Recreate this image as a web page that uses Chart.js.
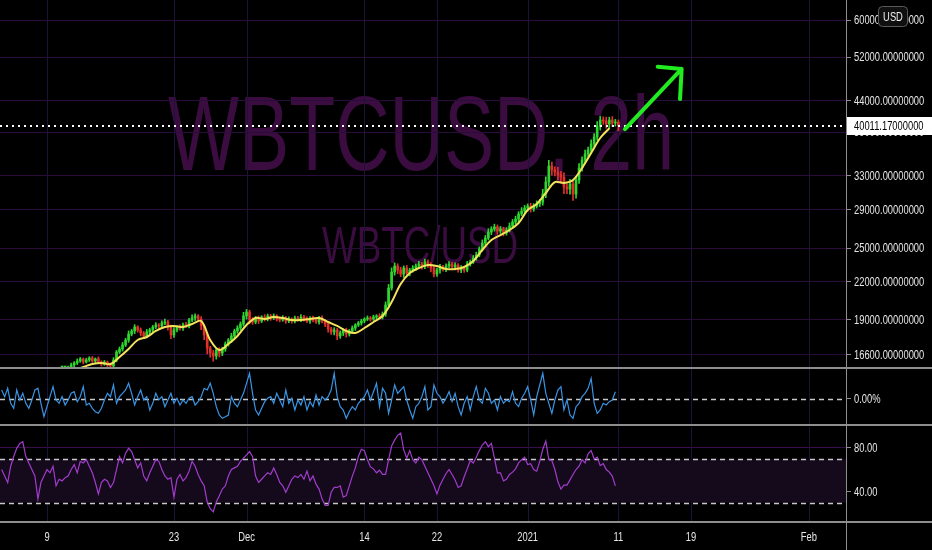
<!DOCTYPE html>
<html>
<head>
<meta charset="utf-8">
<title>WBTCUSD, 2h</title>
<script src="https://cdn.jsdelivr.net/npm/chart.js@4.4.1/dist/chart.umd.min.js"></script>
<style>
  html, body { margin: 0; padding: 0; background: #000; }
  #wrap { position: relative; width: 932px; height: 550px; background: #000; overflow: hidden; }
  #wrap canvas { position: absolute; left: 0; }
</style>
</head>
<body>
<div id="wrap">
  <canvas id="priceChart" width="932" height="369" style="top:0"></canvas>
  <canvas id="oscChart" width="932" height="57" style="top:369px"></canvas>
  <canvas id="rsiChart" width="932" height="124" style="top:426px"></canvas>
</div>
<script>
// time axis: days counted from Nov 1 2020 (Nov 1 = 0)
const xMin = 2.82;
const xMax = 96.1;
const xTickDays = [8, 22, 30, 43, 51, 61, 71, 79, 92];
const xTickLabels = ['9', '23', 'Dec', '14', '22', '2021', '11', '19', 'Feb'];

// price pane (log scale)
const priceMin = 15842;
const priceMax = 64787;
const priceTicks = [16600, 19000, 22000, 25000, 29000, 33000, 39000, 44000, 52000, 60000];
const lastPrice = 40011.17;

// 8h closes, first one at Nov 10 16:00
const priceStartDay = 29 / 3;
const stepDay = 1 / 3;
const priceCloses = [
  15660, 15720, 15840, 15965, 16090, 16210, 16335, 16150, 16275, 16400,
  16210, 16340, 16150, 16025, 16150, 15965, 15905, 16275, 16780, 16975,
  17240, 17570, 17980, 18190, 18470, 18260, 18050, 17845, 18120, 18260,
  18470, 18615, 18545, 18755, 18830, 18470, 17915, 18260, 18470, 18400,
  18615, 18545, 18975, 19120, 19270, 19045, 18545, 17915, 17040, 16715,
  16525, 16910, 16715, 16975, 17305, 17570, 17845, 18190, 18400, 18685,
  19270, 19565, 18975, 18830, 19120, 18900, 19195, 19045, 19270, 19120,
  19270, 19045, 18975, 19120, 18900, 19045, 18900, 19120, 18975, 19195,
  19045, 18900, 19120, 18975, 18830, 19120, 18900, 18685, 18330, 18120,
  18260, 17845, 18050, 18260, 17980, 18190, 18400, 18615, 18755, 18900,
  19045, 19120, 19045, 19195, 19270, 19195, 19415, 20100, 21450, 22810,
  23340, 22985, 22635, 23165, 22725, 22985, 23165, 23340, 23520, 23340,
  23705, 23520, 23165, 22635, 22985, 23255, 23075, 23340, 23520, 23255,
  23430, 22985, 23165, 22985, 23520, 23705, 24085, 24350, 24915, 25495,
  25985, 26595, 26900, 27110, 26695, 26900, 26490, 26800, 27210, 27635,
  27955, 28500, 28830, 29160, 29385, 29050, 29385, 29615, 29840, 30770,
  32220, 34260, 33740, 33480, 33100, 32845, 31610, 31370, 31980, 30770,
  32470, 34000, 35060, 35880, 36430, 37280, 38295, 39915, 40875, 40720,
  40255, 40875, 40410, 40565, 40011.17
];
// wick lengths above / below the body, in tenths of a percent
const wickUp = [
  5, 6, 4, 7, 5, 8, 6, 4, 7, 5,
  6, 4, 8, 5, 6, 4, 7, 9, 6, 8,
  10, 7, 12, 6, 9, 5, 8, 6, 10, 7,
  6, 9, 5, 8, 11, 6, 7, 9, 5, 8,
  7, 10, 6, 12, 8, 5, 9, 6, 8, 7,
  10, 6, 9, 7, 8, 6, 10, 7, 9, 8,
  14, 10, 7, 9, 6, 8, 5, 9, 7, 6,
  8, 5, 7, 9, 6, 8, 5, 7, 6, 9,
  6, 8, 5, 7, 9, 6, 8, 5, 7, 6,
  9, 6, 8, 5, 7, 6, 8, 5, 6, 7,
  5, 8, 6, 7, 5, 9, 8, 12, 14, 16,
  12, 9, 11, 8, 10, 7, 9, 8, 10, 7,
  11, 8, 6, 9, 7, 10, 6, 8, 9, 7,
  8, 6, 9, 7, 10, 8, 9, 11, 8, 12,
  10, 13, 9, 11, 8, 10, 7, 9, 12, 10,
  11, 9, 13, 10, 8, 11, 9, 12, 10, 18,
  20, 22, 15, 12, 18, 14, 16, 12, 18, 15,
  14, 17, 12, 15, 11, 16, 13, 18, 14, 12,
  15, 11, 13, 10, 8
];
const wickDown = [
  6, 4, 7, 5, 8, 6, 5, 7, 4, 6,
  5, 7, 6, 8, 5, 9, 6, 5, 7, 6,
  8, 6, 9, 7, 10, 8, 11, 9, 7, 8,
  7, 6, 9, 8, 6, 12, 14, 9, 7, 8,
  9, 7, 8, 6, 9, 11, 14, 18, 22, 16,
  20, 12, 15, 10, 9, 8, 10, 7, 9, 8,
  8, 12, 15, 9, 7, 10, 6, 8, 7, 9,
  6, 8, 7, 5, 9, 6, 8, 7, 5, 6,
  8, 6, 9, 7, 6, 8, 7, 10, 12, 9,
  11, 14, 9, 10, 12, 8, 7, 9, 6, 8,
  7, 6, 8, 5, 7, 6, 8, 9, 10, 8,
  12, 14, 10, 13, 9, 11, 8, 10, 9, 12,
  10, 13, 15, 11, 9, 12, 8, 10, 7, 9,
  11, 8, 10, 9, 7, 8, 6, 9, 7, 8,
  9, 7, 10, 8, 12, 9, 11, 8, 7, 9,
  8, 10, 7, 9, 11, 12, 9, 8, 10, 12,
  14, 16, 20, 15, 18, 22, 25, 18, 20, 24,
  16, 13, 12, 14, 11, 13, 10, 12, 15, 13,
  16, 18, 14, 12, 20
];

// daily moving average, from Nov 11
const maStartDay = 10;
const maValues = [
  15540, 15660, 15840, 16025, 16090, 16025, 16460, 16975, 17570, 17775,
  18190, 18470, 18545, 18470, 18685, 18900, 17570, 16910, 17305, 17845,
  18615, 19120, 19045, 19195, 19120, 18975, 18975, 19045, 19120, 18830,
  18545, 18190, 18050, 18400, 18830, 19270, 20330, 21785, 22725, 23165,
  23430, 23340, 23075, 23075, 23255, 23795, 24820, 25785, 26290, 26800,
  27530, 28940, 29615, 30890, 32220, 32100, 32470, 34000, 36010, 38150,
  39610
];

// drawn arrow: tail, head, two wing ends
const arrowDays = [71.73, 77.98, 75.34, 77.80];
const arrowPrices = [39460, 49716, 50154, 44305];

// oscillator (%), 8h steps from Nov 4
const oscStartDay = 3;
const oscMin = -2.5;
const oscMax = 3.0;
const oscTicks = [0];
const oscValues = [
  0.90, 0.23, 1.07, -0.43, -0.93, 0.90, -0.10, 0.57, -0.43, -0.93,
  -0.10, 0.90, 1.07, -0.43, -1.77, -0.77, 0.23, 1.23, -0.10, -0.43,
  0.23, -0.60, -0.10, 0.57, 0.73, -0.27, 0.23, 1.23, -0.60, -0.43,
  -0.93, -1.27, -1.43, -0.93, -0.10, 0.57, 0.23, 1.40, -0.43, 0.23,
  0.57, 0.90, 1.57, 0.57, -0.60, 0.23, 0.90, -0.10, 0.23, -1.10,
  -0.43, 0.57, -0.10, 0.23, -0.77, -0.10, 0.57, -0.43, 0.07, -0.60,
  -0.10, -0.43, 0.07, 0.23, -0.60, -0.27, 0.23, 1.07, 0.90, 1.57,
  0.57, -0.77, -1.60, -1.93, -1.77, -1.60, 0.23, -0.43, -0.77, -0.10,
  0.57, 1.57, 2.57, 0.57, -1.10, -1.60, -0.93, -0.27, 0.07, 0.23,
  -0.43, 0.57, -0.10, -0.77, 0.90, -0.43, 0.07, -1.10, -0.10, -0.60,
  0.23, -1.10, -0.27, -0.77, 0.40, -0.60, 0.23,
  -0.10, 0.23, 0.90, 2.57, 0.23, -0.77, -1.10, -1.93, -1.27, -0.77,
  -1.10, -0.43, -0.10, 0.23, 0.90, -0.10, 0.73, 1.57, -0.77, 1.07,
  0.57, -1.43, -0.10, 1.40, 0.57, 0.90, 1.23, -0.10, -1.10, -1.93,
  -0.77, -0.43, 0.23, 1.23, -1.10, -0.77, 1.40, 0.57, 0.23, -0.43,
  0.07, 0.73, -0.27, 0.57, -0.77, -1.60, -0.43, 0.23, -1.10, 0.23,
  1.23, -0.10, -0.43, 1.07, 0.57, -0.43, -0.10, -1.10, 0.23, -0.43,
  -0.10, -0.27, 0.73, -0.43, -0.77, 0.07, 0.57, 1.23, -0.10, -1.60,
  0.23, 1.40, 2.57, 0.57, -0.43, -1.43, -0.10, 0.90, 1.23, -1.10,
  -0.10, -1.60, -1.93, -0.77, -0.43, 0.23, 0.57, 1.07, 2.07, -0.43,
  -1.43, -1.10, -0.43, -0.60, -0.27, -0.10, 0.73
];

// RSI, same 8h steps
const rsiMin = 13.2;
const rsiMax = 99.2;
const rsiTicks = [80, 40];
const rsiBand = [70, 30];
const rsiValues = [
  60.3, 54.4, 48.4, 63.3, 72.2, 79.7, 84.2, 85.7, 72.2, 66.3,
  60.3, 54.4, 33.5, 48.4, 54.4, 60.3, 57.3, 63.3, 45.4, 51.4,
  49.9, 52.9, 54.4, 60.3, 64.8, 57.3, 67.8, 66.3, 69.3, 63.3,
  57.3, 48.4, 37.9, 48.4, 51.4, 49.9, 43.9, 48.4, 60.3, 72.2,
  66.3, 75.2, 79.7, 76.7, 69.3, 61.8, 66.3, 54.4, 49.9, 57.3,
  63.3, 69.3, 67.8, 60.3, 54.4, 51.4, 52.9, 35.0, 51.4, 55.8,
  49.9, 52.9, 58.8, 67.8, 63.3, 55.8, 49.9, 45.4, 30.5, 24.5,
  21.6, 30.5, 36.4, 42.4, 45.4, 54.4, 60.3, 61.8, 63.3, 67.8,
  70.8, 73.7, 76.7, 72.2, 54.4, 48.4, 51.4, 54.4, 57.3, 55.8,
  61.8, 55.8, 48.4, 45.4, 39.5, 45.4, 51.4, 54.4, 52.9, 55.8,
  51.4, 58.8, 49.9, 54.4, 46.9, 42.4, 33.5,
  27.5, 27.5, 39.5, 43.9, 43.9, 45.4, 35.0, 36.4, 45.4, 54.3,
  61.8, 72.2, 78.8, 77.6, 69.3, 62.7, 60.9, 57.3, 59.7, 55.8,
  55.8, 69.3, 81.8, 87.2, 91.6, 93.7, 78.2, 70.8, 77.6, 69.3,
  66.3, 71.6, 69.3, 63.3, 57.3, 51.4, 45.4, 37.9, 46.0, 51.4,
  56.7, 60.3, 55.8, 50.8, 43.9, 45.4, 53.7, 60.9, 68.6, 66.3,
  71.6, 77.6, 82.7, 85.7, 81.2, 84.2, 70.8, 57.3, 57.3, 49.9,
  51.4, 55.8, 57.9, 60.9, 66.3, 69.3, 71.6, 64.8, 65.7, 60.3,
  58.8, 67.8, 78.8, 86.3, 69.3, 68.6, 60.3, 49.0, 42.4, 46.0,
  46.0, 50.8, 55.8, 60.3, 63.3, 69.3, 66.3, 74.6, 77.6, 69.9,
  71.6, 63.9, 65.7, 60.3, 57.9, 54.3, 45.4
];

const AXIS_W = 86;
const TEXT = '#e6e6e6';
const LINE_GRAY = '#8e8e8e';
const FONT = "13px 'Liberation Sans', sans-serif";
const SQUEEZE = 0.72; // the screenshot is squashed horizontally
const UP = '#2fd62f';
const DOWN = '#e2302a';

function fixAxisWidth(scale) {
  scale.width = AXIS_W;
  scale.paddingTop = 0;
  scale.paddingBottom = 0;
}

function squeezedText(ctx, text, x, y, align) {
  ctx.save();
  ctx.translate(x, y);
  ctx.scale(SQUEEZE, 1);
  ctx.textAlign = align;
  ctx.textBaseline = 'middle';
  ctx.fillText(text, 0, 0);
  ctx.restore();
}

// vertical date grid, pane separators, price axis line, tick labels
const paneFrame = {
  id: 'paneFrame',
  beforeDatasetsDraw(chart) {
    const { ctx, chartArea: a, scales: { x } } = chart;
    ctx.save();
    ctx.strokeStyle = '#1a1438';
    ctx.lineWidth = 1;
    xTickDays.forEach((d) => {
      const px = Math.round(x.getPixelForValue(d)) + 0.5;
      ctx.beginPath();
      ctx.moveTo(px, a.top);
      ctx.lineTo(px, a.bottom);
      ctx.stroke();
    });
    ctx.restore();
  },
  afterDraw(chart) {
    const { ctx, chartArea: a, scales: { x, y } } = chart;
    ctx.save();
    ctx.strokeStyle = LINE_GRAY;
    ctx.lineWidth = 2;
    ctx.beginPath();
    ctx.moveTo(0, a.bottom + 1);
    ctx.lineTo(chart.width, a.bottom + 1);
    ctx.stroke();
    ctx.lineWidth = 1;
    ctx.beginPath();
    ctx.moveTo(a.right + 0.5, 0);
    ctx.lineTo(a.right + 0.5, chart.height);
    ctx.stroke();

    ctx.fillStyle = TEXT;
    ctx.font = FONT;
    y.ticks.forEach((t) => {
      squeezedText(ctx, t.label, a.right + 8, y.getPixelForValue(t.value) + 0.5, 'left');
    });
    if (x.options.display) {
      x.ticks.forEach((t) => {
        squeezedText(ctx, t.label, x.getPixelForValue(t.value), a.bottom + 16, 'center');
      });
    }
    ctx.restore();
  },
};

function drawFitted(ctx, text, left, right, baseline, size) {
  ctx.font = `${size}px 'Liberation Sans', sans-serif`;
  const w = ctx.measureText(text).width;
  ctx.save();
  ctx.translate(left, baseline);
  ctx.scale((right - left) / w, 1);
  ctx.fillText(text, 0, 0);
  ctx.restore();
}

const watermark = {
  id: 'watermark',
  beforeDraw(chart) {
    const { ctx } = chart;
    ctx.save();
    ctx.fillStyle = '#3a0c3f';
    ctx.textBaseline = 'alphabetic';
    drawFitted(ctx, 'WBTCUSD, 2h', 168, 674, 170, 105);
    drawFitted(ctx, 'WBTC/USD', 322, 518, 263, 52);
    ctx.restore();
  },
};

const priceMarks = {
  id: 'priceMarks',
  afterDatasetsDraw(chart) {
    const { ctx, chartArea: a, scales: { x, y } } = chart;
    const py = Math.round(y.getPixelForValue(lastPrice));
    ctx.save();
    ctx.strokeStyle = '#ffffff';
    ctx.lineWidth = 2;
    ctx.setLineDash([2, 4]);
    ctx.beginPath();
    ctx.moveTo(a.left, py);
    ctx.lineTo(a.right, py);
    ctx.stroke();
    ctx.setLineDash([]);

    // green arrow
    const pts = arrowDays.map((d, i) => [x.getPixelForValue(d), y.getPixelForValue(arrowPrices[i])]);
    ctx.strokeStyle = '#20ec20';
    ctx.lineWidth = 4;
    ctx.lineCap = 'round';
    ctx.lineJoin = 'round';
    ctx.beginPath();
    ctx.moveTo(pts[0][0], pts[0][1]);
    ctx.lineTo(pts[1][0], pts[1][1]);
    ctx.moveTo(pts[2][0], pts[2][1]);
    ctx.lineTo(pts[1][0], pts[1][1]);
    ctx.lineTo(pts[3][0], pts[3][1]);
    ctx.stroke();
    ctx.restore();
  },
  afterDraw(chart) {
    const { ctx, chartArea: a, scales: { y } } = chart;
    const py = Math.round(y.getPixelForValue(lastPrice));
    ctx.save();
    ctx.fillStyle = '#ffffff';
    ctx.fillRect(a.right + 1, py - 9, chart.width - a.right, 18);
    ctx.fillStyle = '#000000';
    ctx.font = FONT;
    squeezedText(ctx, lastPrice.toFixed(8), a.right + 8, py + 0.5, 'left');

    // currency badge
    ctx.fillStyle = '#101010';
    ctx.strokeStyle = '#5a5a5a';
    ctx.lineWidth = 1;
    ctx.beginPath();
    ctx.roundRect(878.5, 6.5, 29, 20, 4);
    ctx.fill();
    ctx.stroke();
    ctx.fillStyle = '#eeeeee';
    ctx.font = FONT;
    squeezedText(ctx, 'USD', 893, 17, 'center');
    ctx.restore();
  },
};

const levels = {
  id: 'levels',
  beforeDatasetsDraw(chart, args, opts) {
    const { ctx, chartArea: a, scales: { y } } = chart;
    ctx.save();
    if (opts.band) {
      const t = y.getPixelForValue(opts.band[0]);
      const b = y.getPixelForValue(opts.band[1]);
      ctx.fillStyle = '#140a1c';
      ctx.fillRect(a.left, t, a.width, b - t);
    }
    ctx.strokeStyle = '#c8c8c8';
    ctx.lineWidth = 1.4;
    ctx.setLineDash([5, 4]);
    (opts.lines || []).forEach((v) => {
      const p = Math.round(y.getPixelForValue(v)) + 0.5;
      ctx.beginPath();
      ctx.moveTo(a.left, p);
      ctx.lineTo(a.right, p);
      ctx.stroke();
    });
    ctx.restore();
  },
};

function rightAxis(extra) {
  return Object.assign({
    position: 'right',
    afterFit: fixAxisWidth,
    grid: { color: 'rgba(0,0,0,0)', tickColor: LINE_GRAY, tickLength: 5 },
    border: { display: true, color: LINE_GRAY, width: 1 },
  }, extra);
}

const candlePoints = priceCloses.map((c, i) => ({
  x: priceStartDay + i * stepDay,
  y: [i ? priceCloses[i - 1] : c, c],
}));
const candleColors = candlePoints.map((p) => (p.y[1] >= p.y[0] ? UP : DOWN));
const wickPoints = candlePoints.map((p, i) => ({
  x: p.x,
  y: [Math.min(p.y[0], p.y[1]) * (1 - wickDown[i] / 1000), Math.max(p.y[0], p.y[1]) * (1 + wickUp[i] / 1000)],
}));
const maPoints = maValues.map((v, i) => ({ x: maStartDay + i, y: v }));
const oscPoints = oscValues.map((v, i) => ({ x: oscStartDay + i * stepDay, y: v }));
const rsiPoints = rsiValues.map((v, i) => ({ x: oscStartDay + i * stepDay, y: v }));

const common = {
  responsive: false,
  animation: false,
  devicePixelRatio: 1,
  events: [],
};

// eslint-disable-next-line no-undef
new Chart(document.getElementById('priceChart'), {
  type: 'bar',
  data: {
    datasets: [
      {
        type: 'line',
        label: 'MA',
        data: maPoints,
        borderColor: '#f4e35c',
        borderWidth: 2,
        pointRadius: 0,
        tension: 0.35,
        order: 0,
      },
      {
        type: 'bar',
        label: 'WBTCUSD',
        data: candlePoints,
        backgroundColor: candleColors,
        barThickness: 2,
        minBarLength: 1,
        grouped: false,
        order: 1,
      },
      {
        type: 'bar',
        label: 'wicks',
        data: wickPoints,
        backgroundColor: candleColors,
        barThickness: 1,
        grouped: false,
        order: 2,
      },
    ],
  },
  options: Object.assign({}, common, {
    layout: { padding: { top: 0, bottom: 2, left: 0, right: 0 } },
    plugins: { legend: { display: false }, tooltip: { enabled: false } },
    scales: {
      x: { type: 'linear', display: false, min: xMin, max: xMax, offset: false },
      y: rightAxis({
        type: 'logarithmic',
        min: priceMin,
        max: priceMax,
        afterBuildTicks: (s) => { s.ticks = priceTicks.map((v) => ({ value: v })); },
        ticks: { display: false, autoSkip: false, callback: (v) => Number(v).toFixed(8) },
        grid: { color: '#2a0c3b', tickColor: LINE_GRAY, tickLength: 5 },
      }),
    },
  }),
  plugins: [watermark, paneFrame, priceMarks],
});

// eslint-disable-next-line no-undef
new Chart(document.getElementById('oscChart'), {
  type: 'line',
  data: {
    datasets: [
      { label: 'Osc', data: oscPoints, borderColor: '#3994e4', borderWidth: 1.2, pointRadius: 0, tension: 0 },
    ],
  },
  options: Object.assign({}, common, {
    layout: { padding: { top: 0, bottom: 2, left: 0, right: 0 } },
    plugins: { legend: { display: false }, tooltip: { enabled: false }, levels: { lines: oscTicks } },
    scales: {
      x: { type: 'linear', display: false, min: xMin, max: xMax },
      y: rightAxis({
        min: oscMin,
        max: oscMax,
        afterBuildTicks: (s) => { s.ticks = oscTicks.map((v) => ({ value: v })); },
        ticks: { display: false, autoSkip: false, callback: (v) => `${Number(v).toFixed(2)}%` },
      }),
    },
  }),
  plugins: [paneFrame, levels],
});

// eslint-disable-next-line no-undef
new Chart(document.getElementById('rsiChart'), {
  type: 'line',
  data: {
    datasets: [
      { label: 'RSI', data: rsiPoints, borderColor: '#a23ccc', borderWidth: 1.2, pointRadius: 0, tension: 0 },
    ],
  },
  options: Object.assign({}, common, {
    layout: { padding: { top: 1, bottom: 0, left: 0, right: 0 } },
    plugins: { legend: { display: false }, tooltip: { enabled: false }, levels: { lines: rsiBand, band: rsiBand } },
    scales: {
      x: {
        type: 'linear',
        min: xMin,
        max: xMax,
        afterBuildTicks: (s) => { s.ticks = xTickDays.map((v) => ({ value: v })); },
        afterFit: (s) => { s.height = 29; s.paddingLeft = 0; s.paddingRight = 0; },
        ticks: { display: false, autoSkip: false, callback: (v, i) => xTickLabels[i] },
        grid: { display: false, drawTicks: false },
        border: { display: false },
      },
      y: rightAxis({
        min: rsiMin,
        max: rsiMax,
        afterBuildTicks: (s) => { s.ticks = rsiTicks.map((v) => ({ value: v })); },
        ticks: { display: false, autoSkip: false, callback: (v) => Number(v).toFixed(2) },
        grid: {
          color: (c) => (c.tick && c.tick.value === 40 ? '#5c1a78' : '#3a0e4c'),
          tickColor: LINE_GRAY,
          tickLength: 5,
        },
      }),
    },
  }),
  plugins: [paneFrame, levels],
});
</script>
</body>
</html>
